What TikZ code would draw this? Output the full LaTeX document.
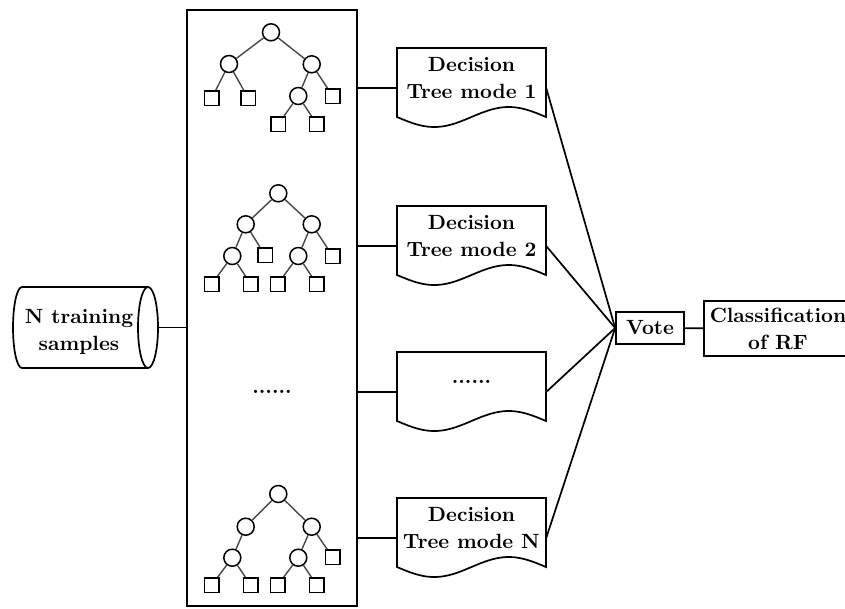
\documentclass[tikz,border=0pt]{standalone}
\usepackage{fontspec}
\setmainfont{lmroman10-regular.otf}[BoldFont=lmroman10-bold.otf]
\begin{document}
\begin{tikzpicture}[x=1pt,y=-1pt,
  every node/.style={font=\fontsize{20.6}{27}\selectfont\bfseries},
  ln/.style={line width=1.7pt},
  tc/.style={circle,draw,line width=1.5pt,minimum size=17pt,inner sep=0pt},
  tl/.style={rectangle,draw,line width=1.5pt,minimum size=14.5pt,inner sep=0pt},
  te/.style={draw=black!72,line width=1.4pt},
  anchorbox/.style={draw=none,rectangle,inner sep=0pt},
  txt/.style={align=center,inner sep=0pt}]
\useasboundingbox (0,0) rectangle (845,608);
\clip (0,0) rectangle (845,608);

% main box
\node[anchorbox,draw,ln,minimum width=170pt,minimum height=596pt] (box) at (272,308) {};

% cylinder
\node[anchorbox,minimum width=145pt,minimum height=81pt] (cyl) at (85.5,327.5) {};
\draw[ln] (148,287) -- (22,287) arc[start angle=90,end angle=270,x radius=9pt,y radius=40.5pt] -- (148,368);
\draw[ln] (148,327.5) ellipse [x radius=10pt,y radius=40.5pt];
\node[txt] (cyltxt) at (79,332) {N training\\samples};
\draw[ln] (cyl.east) -- (box.west |- cyl.east);

% tree 1
\node[tc] (a0) at (271,32.3) {};
\node[tc] (a1) at (229,64) {};
\node[tc] (a2) at (311.7,64.3) {};
\node[tl] (a3) at (211.7,98.3) {};
\node[tl] (a4) at (248.3,98.3) {};
\node[tc] (a5) at (298.3,96) {};
\node[tl] (a6) at (332.7,96) {};
\node[tl] (a7) at (278.3,124) {};
\node[tl] (a8) at (316.7,124) {};
\draw[te] (a0) -- (a1) (a0) -- (a2) (a1) -- (a3) (a1) -- (a4)
  (a2) -- (a5) (a2) -- (a6) (a5) -- (a7) (a5) -- (a8);

% tree 2
\node[tc] (b0) at (278.3,193.3) {};
\node[tc] (b1) at (245.7,224.3) {};
\node[tc] (b2) at (311.7,224.3) {};
\node[tc] (b3) at (232.3,256) {};
\node[tl] (b4) at (265,255) {};
\node[tc] (b5) at (298.3,256) {};
\node[tl] (b6) at (332.7,256) {};
\node[tl] (b7) at (211.7,284) {};
\node[tl] (b8) at (250.7,284) {};
\node[tl] (b9) at (277.7,284) {};
\node[tl] (b10) at (316.7,284) {};
\draw[te] (b0) -- (b1) (b0) -- (b2) (b1) -- (b3) (b1) -- (b4)
  (b2) -- (b5) (b2) -- (b6) (b3) -- (b7) (b3) -- (b8) (b5) -- (b9) (b5) -- (b10);

% tree 3
\node[tc] (c0) at (278.3,494) {};
\node[tc] (c1) at (245.7,526.7) {};
\node[tc] (c2) at (311.7,526.7) {};
\node[tc] (c3) at (232.3,557.7) {};
\node[tc] (c5) at (298.3,557.7) {};
\node[tl] (c6) at (332.7,557.3) {};
\node[tl] (c7) at (211.7,585) {};
\node[tl] (c8) at (250.7,585) {};
\node[tl] (c9) at (277.7,585) {};
\node[tl] (c10) at (316.7,585) {};
\draw[te] (c0) -- (c1) (c0) -- (c2) (c1) -- (c3)
  (c2) -- (c5) (c2) -- (c6) (c3) -- (c7) (c3) -- (c8) (c5) -- (c9) (c5) -- (c10);

\node[txt] (dots) at (272,392) {......};

% vote and classification
\node[draw,ln,minimum width=68pt,minimum height=32pt,inner sep=0pt] (vote) at (650,328) {Vote};
\node[draw,ln,minimum width=148pt,minimum height=55pt,align=center,inner sep=0pt] (cls) at (778,328.5) {Classification\\of RF};
\draw[ln] (vote) -- (cls);

% documents
\foreach \n/\t in {1/48,2/206,3/352,4/498} {
  \node[anchorbox,minimum width=149pt,minimum height=80pt] (d\n) at (471.5,\t+40) {};
  \draw[ln] (397,\t+69) -- (397,\t) -- (546,\t) -- (546,\t+69)
    -- plot[domain=1:0,samples=60,smooth] ({397+149*\x},{\t+69+10*sin(360*\x)}) -- cycle;
  \draw[ln] (box.east |- d\n.west) -- (d\n.west);
  \draw[ln] (d\n.east) -- (vote.west);
}
\node[txt] (t1) at (471.5,77.6) {Decision\\Tree mode 1};
\node[txt] (t2) at (471.5,235.6) {Decision\\Tree mode 2};
\node[txt] (t3) at (471.5,382) {......};
\node[txt] (t4) at (471.5,527.6) {Decision\\Tree mode N};
\end{tikzpicture}
\end{document}
